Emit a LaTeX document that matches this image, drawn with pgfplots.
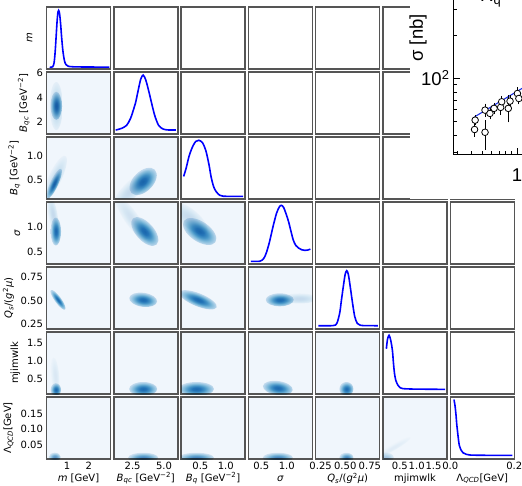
\documentclass[border=0pt]{standalone}
\usepackage{fontspec}
\setmainfont{DejaVu Sans}
\newfontfamily\insetfont{Liberation Sans}
\usepackage{pgfplots}
\pgfplotsset{compat=1.18}

\definecolor{bgblue}{RGB}{240,246,252}
\definecolor{spine}{RGB}{85,85,85}
\definecolor{c0}{RGB}{30,110,178}
\definecolor{c1}{RGB}{39,121,186}
\definecolor{c2}{RGB}{75,155,202}
\definecolor{c3}{RGB}{137,194,222}
\definecolor{c4}{RGB}{198,222,238}
\definecolor{c5}{RGB}{227,238,248}
\definecolor{c6}{RGB}{244,249,253}
\definecolor{insetblue}{RGB}{30,50,230}

\pgfdeclareradialshading{blobsh}{\pgfpoint{0bp}{0bp}}{color(0bp)=(c0); color(6bp)=(c1); color(12bp)=(c2); color(18bp)=(c3); color(24bp)=(c4); color(30bp)=(c5); color(36bp)=(c6); color(42bp)=(white); color(50bp)=(white)}

\pgfdeclareplotmark{blob}{%
  \pgfscope
  \pgflowlevelsynccm
  \pgfsetblendmode{multiply}%
  \pgfpathcircle{\pgfpointorigin}{\pgfplotmarksize}%
  \pgfshadepath{blobsh}{0}%
  \pgfusepath{discard}%
  \endpgfscope
}

\newcommand{\tf}{\fontsize{10}{11.5}\selectfont}
\newcommand{\insetsz}{\insetfont\fontsize{18.5}{20}\selectfont}

% blob: x, y, major semi-axis (pt), minor semi-axis (pt), rotation, opacity
\newcommand{\blob}[6]{\addplot[only marks, mark=blob, mark size=#3pt, mark options={rotate=#5, yscale=#4/#3, fill opacity=#6}] coordinates {(#1,#2)};}

\pgfplotsset{
  cellbase/.style={width=64pt, height=62pt, scale only axis, anchor=south west,
    axis line style={draw=spine, line width=1.4pt},
    major tick length=0pt, minor tick length=0pt,
    xtick=\empty, ytick=\empty,
    tick label style={font=\tf}, label style={font=\tf},
    clip marker paths=true},
  dens/.style={cellbase, axis background/.style={fill=bgblue}},
  diag/.style={cellbase, ymin=0, ymax=1},
  blank/.style={cellbase, xmin=0, xmax=1, ymin=0, ymax=1},
  curve/.style={draw=blue, line width=1.6pt, smooth, no marks},
  vx0/.style={xmin=0.05, xmax=3},
  vx1/.style={xmin=1, xmax=6.1},
  vx2/.style={xmin=0.12, xmax=1.38},
  vx3/.style={xmin=0.25, xmax=1.5},
  vx4/.style={xmin=0.2, xmax=0.85},
  vx5/.style={xmin=0, xmax=1.9},
  vx6/.style={xmin=0, xmax=0.2},
  vy1/.style={ymin=1, ymax=6.1},
  vy2/.style={ymin=0.12, ymax=1.38},
  vy3/.style={ymin=0.25, ymax=1.5},
  vy4/.style={ymin=0.2, ymax=0.85},
  vy5/.style={ymin=0.08, ymax=1.82},
  vy6/.style={ymin=0.003, ymax=0.203},
  tx0/.style={xtick={1,2}, xticklabels={1,2}},
  tx1/.style={xtick={2.5,5}, xticklabels={2.5,5.0}},
  tx2/.style={xtick={0.5,1}, xticklabels={0.5,1.0}},
  tx3/.style={xtick={0.5,1}, xticklabels={0.5,1.0}},
  tx4/.style={xtick={0.25,0.5,0.75}, xticklabels={0.25,0.50,0.75}},
  tx5/.style={xtick={0.5,1,1.5}, xticklabels={0.5,1.0,1.5}},
  tx6/.style={xtick={0,0.2}, xticklabels={0.0,0.2}},
  ty1/.style={ytick={2,4,6}, yticklabels={2,4,6}},
  ty2/.style={ytick={0.5,1}, yticklabels={0.5,1.0}},
  ty3/.style={ytick={0.5,1}, yticklabels={0.5,1.0}},
  ty4/.style={ytick={0.25,0.5,0.75}, yticklabels={0.25,0.50,0.75}},
  ty5/.style={ytick={0.5,1,1.5}, yticklabels={0.5,1.0,1.5}},
  ty6/.style={ytick={0.05,0.1,0.15}, yticklabels={0.05,0.10,0.15}},
  ylp/.style={ylabel style={at={(axis description cs:#1,0.5)}, anchor=center}},
  xlp/.style={xlabel style={at={(axis description cs:0.5,-0.315)}, anchor=center}},
}

\begin{document}
\begin{tikzpicture}
% ---------------- row 0 : m
\begin{axis}[diag, vx0, at={(46.5pt,416pt)}, ylabel={\textit{m}}, ylp=-0.265]
\addplot[curve] coordinates {(0.2,0.03)(0.33,0.035)(0.40,0.1)(0.45,0.28)(0.49,0.5)(0.54,0.78)(0.58,0.92)(0.61,0.945)(0.65,0.9)(0.70,0.73)(0.75,0.5)(0.81,0.28)(0.88,0.13)(0.95,0.07)(1.05,0.045)(1.3,0.035)(2.0,0.032)(2.95,0.03)};
\end{axis}
\begin{axis}[blank, at={(113.8pt,416pt)}]\end{axis}
\begin{axis}[blank, at={(181.1pt,416pt)}]\end{axis}
\begin{axis}[blank, at={(248.4pt,416pt)}]\end{axis}
\begin{axis}[blank, at={(315.7pt,416pt)}]\end{axis}
\begin{axis}[blank, at={(383pt,416pt)}]\end{axis}
\begin{axis}[blank, at={(450.3pt,416pt)}]\end{axis}
% ---------------- row 1 : Bqc
\begin{axis}[dens, vx0, vy1, ty1, at={(46.5pt,351pt)}, ylabel={\textit{B}\textsubscript{\textit{qc}} [GeV\textsuperscript{−2}]}]
\blob{0.5}{3.3}{24}{6.5}{90}{0.25}
\blob{0.5}{3.32}{14}{5.7}{90}{1}
\end{axis}
\begin{axis}[diag, vx1, at={(113.8pt,351pt)}]
\addplot[curve] coordinates {(1.15,0.064)(1.61,0.09)(2.02,0.14)(2.33,0.25)(2.58,0.4)(2.73,0.5)(2.94,0.7)(3.14,0.88)(3.34,0.95)(3.55,0.87)(3.8,0.68)(4.01,0.5)(4.26,0.3)(4.57,0.14)(4.93,0.08)(5.34,0.065)(5.95,0.064)};
\end{axis}
\begin{axis}[blank, at={(181.1pt,351pt)}]\end{axis}
\begin{axis}[blank, at={(248.4pt,351pt)}]\end{axis}
\begin{axis}[blank, at={(315.7pt,351pt)}]\end{axis}
\begin{axis}[blank, at={(383pt,351pt)}]\end{axis}
\begin{axis}[blank, at={(450.3pt,351pt)}]\end{axis}
% ---------------- row 2 : Bq
\begin{axis}[dens, vx0, vy2, ty2, at={(46.5pt,286pt)}, ylabel={\textit{B}\textsubscript{\textit{q}} [GeV\textsuperscript{−2}]}]
\blob{0.45}{0.55}{24}{6.5}{65}{0.2}
\blob{0.40}{0.43}{16.5}{4}{65}{1}
\end{axis}
\begin{axis}[dens, vx1, vy2, at={(113.8pt,286pt)}]
\blob{2.41}{0.31}{26}{8}{45}{0.2}
\blob{3.34}{0.477}{16.5}{10}{45}{1}
\end{axis}
\begin{axis}[diag, vx2, at={(181.1pt,286pt)}]
\addplot[curve] coordinates {(0.17,0.364)(0.22,0.50)(0.28,0.70)(0.35,0.85)(0.41,0.93)(0.47,0.947)(0.54,0.91)(0.59,0.82)(0.62,0.74)(0.67,0.55)(0.71,0.36)(0.76,0.20)(0.81,0.12)(0.88,0.06)(0.95,0.045)(1.13,0.043)(1.34,0.043)};
\end{axis}
\begin{axis}[blank, at={(248.4pt,286pt)}]\end{axis}
\begin{axis}[blank, at={(315.7pt,286pt)}]\end{axis}
\begin{axis}[blank, at={(383pt,286pt)}]\end{axis}
\begin{axis}[blank, at={(450.3pt,286pt)}]\end{axis}
% ---------------- row 3 : sigma
\begin{axis}[dens, vx0, vy3, ty3, at={(46.5pt,221pt)}, ylabel={\textit{σ}}]
\blob{0.345}{1.25}{18}{4.5}{100}{0.2}
\blob{0.48}{0.905}{14}{5.2}{90}{1}
\end{axis}
\begin{axis}[dens, vx1, vy3, at={(113.8pt,221pt)}]
\blob{2.41}{1.17}{26}{7}{-55}{0.15}
\blob{3.47}{0.905}{17.6}{9}{-48}{1}
\end{axis}
\begin{axis}[dens, vx2, vy3, at={(181.1pt,221pt)}]
\blob{0.29}{1.17}{22}{9}{-40}{0.2}
\blob{0.485}{0.905}{19}{10}{-34}{1}
\end{axis}
\begin{axis}[diag, vx3, at={(248.4pt,221pt)}]
\addplot[curve] coordinates {(0.30,0.043)(0.475,0.045)(0.55,0.09)(0.60,0.18)(0.66,0.35)(0.73,0.6)(0.80,0.82)(0.86,0.93)(0.89,0.946)(0.94,0.91)(1.025,0.71)(1.075,0.55)(1.125,0.39)(1.175,0.30)(1.225,0.26)(1.29,0.23)(1.35,0.22)(1.41,0.225)(1.46,0.24)};
\end{axis}
\begin{axis}[blank, at={(315.7pt,221pt)}]\end{axis}
\begin{axis}[blank, at={(383pt,221pt)}]\end{axis}
\begin{axis}[blank, at={(450.3pt,221pt)}]\end{axis}
% ---------------- row 4 : Qs
\begin{axis}[dens, vx0, vy4, ty4, at={(46.5pt,156pt)}, ylabel={\textit{Q}\textsubscript{\textit{s}}/(\textit{g}\textsuperscript{2}\textit{μ})}]
\blob{0.58}{0.506}{12}{3.3}{-54}{1}
\end{axis}
\begin{axis}[dens, vx1, vy4, at={(113.8pt,156pt)}]
\blob{3.34}{0.506}{14}{7}{-8}{1}
\end{axis}
\begin{axis}[dens, vx2, vy4, at={(181.1pt,156pt)}]
\blob{0.455}{0.506}{20}{6.5}{-22}{1}
\end{axis}
\begin{axis}[dens, vx3, vy4, at={(248.4pt,156pt)}]
\blob{1.25}{0.52}{18}{5}{0}{0.2}
\blob{0.8625}{0.506}{14}{6.5}{0}{1}
\end{axis}
\begin{axis}[diag, vx4, at={(315.7pt,156pt)}]
\addplot[curve] coordinates {(0.226,0.053)(0.3755,0.055)(0.4145,0.09)(0.444,0.26)(0.46,0.45)(0.48,0.68)(0.499,0.88)(0.515,0.94)(0.5315,0.88)(0.551,0.68)(0.574,0.42)(0.5965,0.2)(0.6225,0.09)(0.6485,0.064)(0.6875,0.055)(0.8305,0.053)};
\end{axis}
\begin{axis}[blank, at={(383pt,156pt)}]\end{axis}
\begin{axis}[blank, at={(450.3pt,156pt)}]\end{axis}
% ---------------- row 5 : mjimwlk
\begin{axis}[dens, vx0, vy5, ty5, at={(46.5pt,91pt)}, ylabel={mjimwlk}]
\blob{0.45}{0.6}{18}{4}{95}{0.1}
\blob{0.48}{0.2}{6.5}{5.2}{90}{1}
\end{axis}
\begin{axis}[dens, vx1, vy5, at={(113.8pt,91pt)}]
\blob{3.34}{0.22}{14}{7}{0}{1}
\end{axis}
\begin{axis}[dens, vx2, vy5, at={(181.1pt,91pt)}]
\blob{0.42}{0.22}{17.6}{7}{0}{1}
\end{axis}
\begin{axis}[dens, vx3, vy5, at={(248.4pt,91pt)}]
\blob{0.825}{0.247}{15}{7}{-8}{1}
\end{axis}
\begin{axis}[dens, vx4, vy5, at={(315.7pt,91pt)}]
\blob{0.512}{0.22}{7}{7}{0}{1}
\end{axis}
\begin{axis}[diag, vx5, at={(383pt,91pt)}]
\addplot[curve] coordinates {(0.10,0.73)(0.133,0.88)(0.179,0.947)(0.228,0.87)(0.279,0.705)(0.31,0.5)(0.342,0.33)(0.38,0.22)(0.445,0.14)(0.513,0.10)(0.589,0.087)(0.855,0.08)(1.33,0.077)(1.843,0.075)};
\end{axis}
\begin{axis}[blank, at={(450.3pt,91pt)}]\end{axis}
% ---------------- row 6 : Lambda QCD
\begin{axis}[dens, vx0, vy6, ty6, tx0, at={(46.5pt,26pt)}, xlabel={\textit{m} [GeV]}, xlp, ylabel={Λ\textsubscript{\textit{QCD}}[GeV]}]
\blob{0.43}{0.009}{6}{4.5}{0}{0.7}
\end{axis}
\begin{axis}[dens, vx1, vy6, tx1, at={(113.8pt,26pt)}, xlabel={\textit{B}\textsubscript{\textit{qc}} [GeV\textsuperscript{−2}]}, xlp]
\blob{3.34}{0.007}{15}{5}{0}{0.8}
\end{axis}
\begin{axis}[dens, vx2, vy6, tx2, at={(181.1pt,26pt)}, xlabel={\textit{B}\textsubscript{\textit{q}} [GeV\textsuperscript{−2}]}, xlp]
\blob{0.42}{0.007}{17.6}{5}{0}{0.8}
\end{axis}
\begin{axis}[dens, vx3, vy6, tx3, at={(248.4pt,26pt)}, xlabel={\textit{σ}}, xlp]
\blob{0.825}{0.007}{15}{5}{0}{0.8}
\end{axis}
\begin{axis}[dens, vx4, vy6, tx4, at={(315.7pt,26pt)}, xlabel={\textit{Q}\textsubscript{\textit{s}}/(\textit{g}\textsuperscript{2}\textit{μ})}, xlp]
\blob{0.512}{0.007}{7}{5}{0}{0.8}
\end{axis}
\begin{axis}[dens, vx5, vy6, tx5, at={(383pt,26pt)}, xlabel={mjimwlk}, xlp]
\blob{0.3}{0.04}{20}{3}{30}{0.07}
\blob{0.08}{0.008}{8}{5}{0}{0.35}
\end{axis}
\begin{axis}[diag, vx6, tx6, at={(450.3pt,26pt)}, xlabel={Λ\textsubscript{\textit{QCD}}[GeV]}, xlp]
\addplot[curve] coordinates {(0.0116,0.958)(0.015,0.85)(0.018,0.7)(0.020,0.57)(0.024,0.38)(0.028,0.225)(0.034,0.14)(0.040,0.10)(0.050,0.075)(0.062,0.064)(0.10,0.06)(0.194,0.058)};
\end{axis}
% ---------------- inset (overlapping figure)
\fill[white] (410pt,286pt) rectangle (540pt,500pt);
\begin{axis}[at={(453pt,330pt)}, anchor=south west, width=147pt, height=205pt, scale only axis,
  xmode=log, ymode=log, xmin=0.275, xmax=5.35, ymin=29, ymax=785,
  axis line style={black, line width=1pt},
  xtick={1}, xticklabels={1}, ytick={100}, yticklabels={10\textsuperscript{2}},
  minor xtick={0.3,0.4,0.5,0.6,0.7,0.8,0.9,2,3,4,5},
  minor ytick={30,40,50,60,70,80,90,200,300,400,500,600,700},
  major tick length=7pt, minor tick length=4pt, tick style={black, line width=0.8pt},
  tick pos=left, tick align=inside,
  tick label style={font=\insetsz}, xticklabel style={yshift=-10pt},
  ylabel={σ [nb]}, ylabel style={font=\insetsz, at={(axis description cs:-0.238,0.571)}, anchor=center}]
\addplot[color=insetblue, line width=1.1pt] coordinates {(0.425,53.6)(1.11,84.7)(1.6,100.8)};
\addplot[only marks, mark=*, mark size=3.3pt, mark options={fill=white, draw=black, line width=0.8pt},
  error bars/.cd, y dir=both, y explicit, error bar style={black, line width=0.8pt},
  error mark options={black, mark size=1.5pt, line width=0.8pt}]
  coordinates {
  (0.43,50.8) +- (0,3)
  (0.425,43.7) +- (0,4)
  (0.525,59.7) +- (0,5)
  (0.525,41.8) += (0,7.8) -= (0,9.6)
  (0.58,56.6) +- (0,4)
  (0.63,61.4) +- (0,4)
  (0.72,62.4) +- (0,6)
  (0.735,68.3) +- (0,5)
  (0.84,61.4) += (0,12.6) -= (0,11.1)
  (0.87,69) +- (0,5)
  (1.01,78) +- (0,6)
  (1.04,72) +- (0,5)
  };
\end{axis}
\node[anchor=base west, font=\insetsz, inner sep=0pt] at (480pt,483pt) {R\textsubscript{q} =};
\pgfresetboundingbox
\useasboundingbox (0,0) rectangle (522pt,485pt);
\end{tikzpicture}
\end{document}
